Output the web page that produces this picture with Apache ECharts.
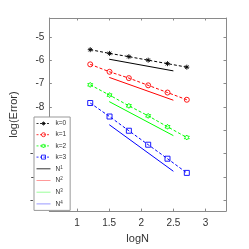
<!DOCTYPE html>
<html><head><meta charset="utf-8">
<script src="https://cdn.jsdelivr.net/npm/echarts@6/dist/echarts.min.js"></script>
<style>html,body{margin:0;padding:0;background:#fff}#c{width:249px;height:249px}</style>
</head><body><div id="c"></div>
<script>
const xLog = [1.2041, 1.5051, 1.8062, 2.1072, 2.4082, 2.7093];
const errK0 = [-5.54, -5.70, -5.84, -5.99, -6.14, -6.29];
const errK1 = [-6.17, -6.49, -6.76, -7.07, -7.38, -7.69];
const errK2 = [-7.05, -7.49, -7.95, -8.38, -8.85, -9.31];
const errK3 = [-7.83, -8.41, -9.02, -9.62, -10.22, -10.83];
const refX = [1.5, 2.5];
const refN1 = [-5.95, -6.45];
const refN2 = [-6.73, -7.71];
const refN3 = [-7.77, -9.23];
const refN4 = [-8.76, -10.76];
const xTicks = [1, 1.5, 2, 2.5, 3];
const yTicks = [-12, -11, -10, -9, -8, -7, -6, -5];
const kNames = ['k=0', 'k=1', 'k=2', 'k=3'];
const nNames = ['N^1', 'N^2', 'N^3', 'N^4'];
const colors = ['#000000', '#ff0000', '#00ff00', '#0000ff'];

const pair = (xs, ys) => xs.map((x, i) => [x, ys[i]]);
const FONT = 'Liberation Sans';
const AX = '#8a8a8a';
const TXT = '#333';

const star = 'path://M0,-10L0,10M-10,0L10,0M-7,-7L7,7M-7,7L7,-7';
const hexagram = 'path://M0,-10L2.9,-5L8.7,-5L5.8,0L8.7,5L2.9,5L0,10L-2.9,5L-8.7,5L-5.8,0L-8.7,-5L-2.9,-5Z';
const clear = 'rgba(0,0,0,0)';

function kSeries(name, data, color, symbol, size) {
  return {
    name, type: 'line', data: pair(xLog, data), symbol, symbolSize: size,
    showSymbol: true, animation: false,
    lineStyle: { color, width: 1, type: [3, 2] },
    itemStyle: { color: clear, borderColor: color, borderWidth: 0.9 }
  };
}
function nSeries(name, data, color) {
  return {
    name, type: 'line', data: pair(refX, data), symbol: 'none', animation: false,
    lineStyle: { color, width: 1 }, itemStyle: { color }
  };
}
function xAx(pos, labels) {
  return {
    type: 'value', position: pos, min: 0.567, max: 3.32,
    name: labels ? 'logN' : '', nameLocation: 'middle', nameGap: 21,
    nameTextStyle: { fontFamily: FONT, fontSize: 11, color: TXT },
    axisLine: { show: true, onZero: false, lineStyle: { color: AX, width: 1 } },
    axisTick: { show: true, inside: true, length: 2.5, customValues: xTicks, lineStyle: { color: AX } },
    axisLabel: { show: labels, customValues: xTicks, margin: 7, fontFamily: FONT, fontSize: 10, color: TXT },
    splitLine: { show: false }
  };
}
function yAx(pos, labels) {
  return {
    type: 'value', position: pos, min: -12.47, max: -4.18,
    name: labels ? 'log(Error)' : '', nameLocation: 'middle', nameGap: 19, nameRotate: 90,
    nameTextStyle: { fontFamily: FONT, fontSize: 11, color: TXT },
    axisLine: { show: true, onZero: false, lineStyle: { color: AX, width: 1 } },
    axisTick: { show: true, inside: true, length: 2.5, customValues: yTicks, lineStyle: { color: AX } },
    axisLabel: { show: labels, customValues: yTicks, margin: 5, fontFamily: FONT, fontSize: 10, color: TXT },
    splitLine: { show: false }
  };
}

const legendData = kNames.map((n, i) => ({
  name: n,
  itemStyle: { color: clear, borderColor: colors[i], borderWidth: 0.8 },
  lineStyle: { color: colors[i], width: 0.8, type: [2, 1.5] }
})).concat(nNames.map((n, i) => ({
  name: n,
  itemStyle: { color: clear, borderColor: clear, borderWidth: 0, opacity: 0 },
  lineStyle: { color: colors[i], width: 1, type: 'solid', opacity: i === 0 ? 0.8 : 0.4 }
})));

const chart = echarts.init(document.getElementById('c'), null, { renderer: 'canvas' });
chart.setOption({
  animation: false,
  grid: { left: 33, right: 23, top: 18, bottom: 37, show: false },
  xAxis: [xAx('bottom', true), xAx('top', false)],
  yAxis: [yAx('left', true), yAx('right', false)],
  legend: {
    orient: 'vertical', left: 34, top: 117,
    data: legendData,
    backgroundColor: '#fff', borderColor: '#999', borderWidth: 1,
    padding: [3, 4, 3, 2], itemWidth: 14, itemHeight: 5, itemGap: 4.2, itemTextGap: 5,
    formatter: n => n.startsWith('N^') ? '{b|N}{s|' + n.slice(2) + '}' : '{b|' + n + '}',
    textStyle: {
      fontFamily: FONT, fontSize: 6.5, color: TXT,
      rich: { b: { fontSize: 6.5, fontFamily: FONT, color: TXT, lineHeight: 7 }, s: { fontSize: 4.5, fontFamily: FONT, color: TXT, verticalAlign: 'top', padding: [0, 0, 3, 0] } }
    }
  },
  series: [
    kSeries(kNames[0], errK0, colors[0], star, 5),
    kSeries(kNames[1], errK1, colors[1], 'circle', 5),
    kSeries(kNames[2], errK2, colors[2], hexagram, 5),
    kSeries(kNames[3], errK3, colors[3], 'rect', 5),
    nSeries(nNames[0], refN1, colors[0]),
    nSeries(nNames[1], refN2, colors[1]),
    nSeries(nNames[2], refN3, colors[2]),
    nSeries(nNames[3], refN4, colors[3])
  ]
});
</script></body></html>
